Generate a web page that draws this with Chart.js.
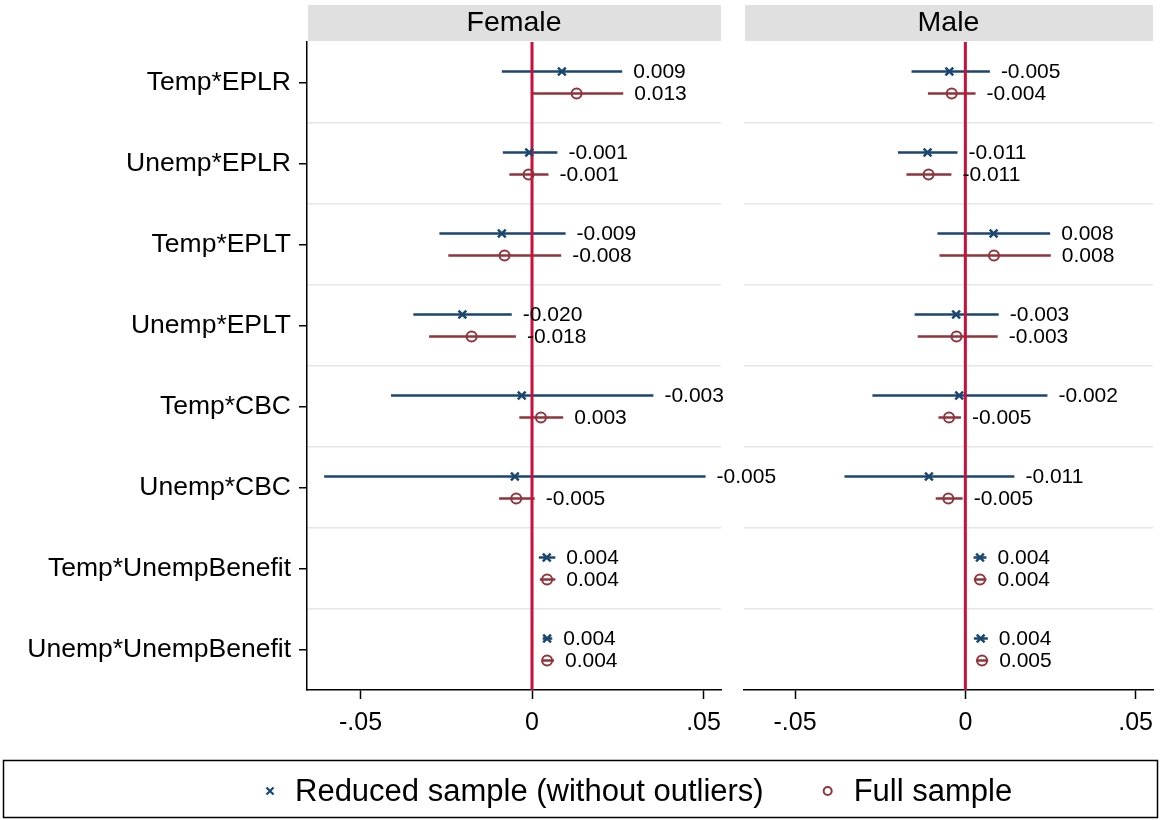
<!DOCTYPE html>
<html>
<head>
<meta charset="utf-8">
<script src="https://cdn.jsdelivr.net/npm/chart.js@4.4.1/dist/chart.umd.min.js"></script>
<style>
  html, body { margin: 0; padding: 0; background: #fff; }
  #wrap { position: relative; width: 1161px; height: 820px; }
  #wrap canvas { position: absolute; left: 0; top: 0; }
</style>
</head>
<body>
<div id="wrap">
  <canvas id="male" width="1161" height="820"></canvas>
  <canvas id="female" width="1161" height="820"></canvas>
</div>
<script>
const terms = ['Temp*EPLR', 'Unemp*EPLR', 'Temp*EPLT', 'Unemp*EPLT',
               'Temp*CBC', 'Unemp*CBC', 'Temp*UnempBenefit', 'Unemp*UnempBenefit'];
const panels = ['Female', 'Male'];
const seriesNames = ['Reduced sample (without outliers)', 'Full sample'];
const xTicks = [-0.05, 0, 0.05];
const xTickLabels = ['-.05', '0', '.05'];
const xMin = [-0.0656, -0.0650];
const xMax = [0.0551, 0.0551];

// Female, reduced sample: estimate and 95% CI
const femRedEst = [0.0087, -0.0008, -0.0088, -0.0203, -0.0030, -0.0050, 0.0043, 0.0044];
const femRedLo  = [-0.0088, -0.0085, -0.0270, -0.0346, -0.0411, -0.0606, 0.0020, 0.0031];
const femRedHi  = [0.0263, 0.0074, 0.0098, -0.0059, 0.0354, 0.0506, 0.0068, 0.0059];
// Female, full sample
const femFullEst = [0.0130, -0.0010, -0.0080, -0.0176, 0.0026, -0.0046, 0.0044, 0.0044];
const femFullLo  = [0.0000, -0.0066, -0.0244, -0.0300, -0.0037, -0.0096, 0.0023, 0.0030];
const femFullHi  = [0.0266, 0.0048, 0.0085, -0.0047, 0.0091, 0.0008, 0.0068, 0.0064];
// Male, reduced sample
const maleRedEst = [-0.0047, -0.0111, 0.0083, -0.0027, -0.0018, -0.0107, 0.0043, 0.0045];
const maleRedLo  = [-0.0158, -0.0198, -0.0082, -0.0149, -0.0273, -0.0355, 0.0024, 0.0025];
const maleRedHi  = [0.0072, -0.0023, 0.0249, 0.0098, 0.0241, 0.0144, 0.0062, 0.0066];
// Male, full sample
const maleFullEst = [-0.0040, -0.0108, 0.0084, -0.0026, -0.0048, -0.0050, 0.0043, 0.0049];
const maleFullLo  = [-0.0110, -0.0173, -0.0076, -0.0140, -0.0079, -0.0087, 0.0025, 0.0032];
const maleFullHi  = [0.0030, -0.0041, 0.0251, 0.0095, -0.0013, -0.0008, 0.0062, 0.0067];

const BLUE = '#1a476f';
const RED = '#90353b';
const ZERO = '#c8103c';
const FONT = "'Liberation Sans', Arial, sans-serif";
const OFF = 0.135; // vertical shift of the two series inside a row

Chart.defaults.font.family = FONT;
Chart.defaults.color = '#000';

function ciData(lo, hi, shift) {
  const pts = [];
  for (let i = 0; i < lo.length; i++) {
    pts.push({x: lo[i], y: i + shift});
    pts.push({x: hi[i], y: i + shift});
    pts.push({x: NaN, y: NaN}); // break the line between rows
  }
  return pts;
}

function estData(est, shift) {
  return est.map((v, i) => ({x: v, y: i + shift}));
}

function buildDatasets(red, full) {
  return [
    {label: seriesNames[0] + ' CI', data: ciData(red.lo, red.hi, -OFF), showLine: true,
     borderColor: BLUE, borderWidth: 2.5, pointRadius: 0, order: 3},
    {label: seriesNames[1] + ' CI', data: ciData(full.lo, full.hi, OFF), showLine: true,
     borderColor: RED, borderWidth: 2.5, pointRadius: 0, order: 3},
    {label: 'zero', data: [{x: 0, y: -0.5}, {x: 0, y: terms.length - 0.5}], showLine: true,
     borderColor: ZERO, borderWidth: 3, pointRadius: 0, order: 2},
    {label: seriesNames[0], data: estData(red.est, -OFF), hi: red.hi, isEst: true,
     pointStyle: 'crossRot', pointRadius: 5.5, borderWidth: 2.5, borderColor: BLUE,
     backgroundColor: BLUE, order: 1},
    {label: seriesNames[1], data: estData(full.est, OFF), hi: full.hi, isEst: true,
     pointStyle: 'circle', pointRadius: 5, borderWidth: 2, borderColor: RED,
     backgroundColor: 'rgba(0,0,0,0)', order: 1}
  ];
}

// gray strip with the panel name, and the value labels next to each CI
const panelPlugin = {
  id: 'panel',
  beforeDraw(chart, args, opts) {
    const {ctx, chartArea} = chart;
    ctx.save();
    ctx.fillStyle = '#e0e0e0';
    ctx.fillRect(chartArea.left + 1, 5, chartArea.right - chartArea.left - 1, 36);
    ctx.fillStyle = '#000';
    ctx.font = '28.5px ' + FONT;
    ctx.textAlign = 'center';
    ctx.textBaseline = 'middle';
    ctx.fillText(opts.title, (chartArea.left + chartArea.right) / 2, 23);
    ctx.restore();
  },
  afterDatasetsDraw(chart) {
    const {ctx} = chart;
    const xs = chart.scales.x;
    ctx.save();
    ctx.fillStyle = '#000';
    ctx.font = '21px ' + FONT;
    ctx.textAlign = 'left';
    ctx.textBaseline = 'middle';
    chart.data.datasets.forEach((ds, di) => {
      if (!ds.isEst) return;
      const meta = chart.getDatasetMeta(di);
      meta.data.forEach((pt, i) => {
        const x = xs.getPixelForValue(ds.hi[i]) + 11;
        ctx.fillText(ds.data[i].x.toFixed(3), x, pt.y + 1);
      });
    });
    ctx.restore();
  }
};

// boxed legend along the bottom
const legendPlugin = {
  id: 'boxLegend',
  afterDraw(chart) {
    const {ctx} = chart;
    ctx.save();
    ctx.strokeStyle = '#000';
    ctx.lineWidth = 1.5;
    ctx.strokeRect(3.5, 760.5, 1154, 57);
    ctx.font = '31px ' + FONT;
    ctx.textBaseline = 'middle';
    ctx.fillStyle = '#000';
    const y = 791;
    let x = 270;
    // cross marker
    ctx.strokeStyle = BLUE;
    ctx.lineWidth = 2.2;
    ctx.beginPath();
    ctx.moveTo(x - 3.5, y - 3.5); ctx.lineTo(x + 3.5, y + 3.5);
    ctx.moveTo(x - 3.5, y + 3.5); ctx.lineTo(x + 3.5, y - 3.5);
    ctx.stroke();
    ctx.fillText(seriesNames[0], x + 25, y + 1);
    x = x + 25 + ctx.measureText(seriesNames[0]).width + 64;
    // circle marker
    ctx.strokeStyle = RED;
    ctx.lineWidth = 2;
    ctx.beginPath();
    ctx.arc(x, y, 4, 0, Math.PI * 2);
    ctx.stroke();
    ctx.fillText(seriesNames[1], x + 26, y + 1);
    ctx.restore();
  }
};

function makeOptions(p, showY) {
  return {
    responsive: false,
    animation: false,
    events: [],
    layout: {padding: showY ? {left: 0, right: 440, top: 42, bottom: 0}
                            : {left: 744, right: 3, top: 42, bottom: 0}},
    plugins: {
      legend: {display: false},
      tooltip: {enabled: false},
      panel: {title: panels[p]}
    },
    scales: {
      x: {
        type: 'linear',
        min: xMin[p],
        max: xMax[p],
        afterBuildTicks: s => { s.ticks = xTicks.map(v => ({value: v})); },
        afterFit: s => {
          s.height = 130;
          s.paddingLeft = 0;   // labels may overhang; the panel edges stay fixed
          s.paddingRight = 0;
        },
        ticks: {
          font: {size: 25},
          color: '#000',
          padding: 9,
          callback: v => xTickLabels[xTicks.indexOf(v)]
        },
        grid: {drawOnChartArea: false, drawTicks: true, tickLength: 9,
               tickColor: '#000', tickWidth: 1.5},
        border: {display: true, color: '#000', width: 1.5}
      },
      y: {
        type: 'linear',
        reverse: true,
        min: -0.5,
        max: terms.length - 0.5,
        afterBuildTicks: s => {
          const t = [];
          for (let v = -0.5; v <= terms.length - 0.5; v += 0.5) t.push({value: v});
          s.ticks = t;
        },
        afterFit: s => {
          s.width = showY ? 307 : 0;
          s.paddingTop = 0;
          s.paddingBottom = 0;
        },
        ticks: {
          display: showY,
          autoSkip: false,
          font: {size: 26.5},
          color: '#000',
          padding: 8,
          callback: v => Number.isInteger(v) ? terms[v] : ''
        },
        grid: {
          drawTicks: showY,
          tickLength: 8,
          color: c => (c.tick && !Number.isInteger(c.tick.value) &&
                       c.tick.value > -0.5 && c.tick.value < terms.length - 0.5)
                      ? '#e6e6e6' : 'rgba(0,0,0,0)',
          lineWidth: 1.5,
          tickColor: c => (c.tick && Number.isInteger(c.tick.value)) ? '#000' : 'rgba(0,0,0,0)',
          tickWidth: 1.5
        },
        border: {display: showY, color: '#000', width: 1.5}
      }
    }
  };
}

new Chart(document.getElementById('male'), {
  type: 'scatter',
  data: {datasets: buildDatasets(
    {est: maleRedEst, lo: maleRedLo, hi: maleRedHi},
    {est: maleFullEst, lo: maleFullLo, hi: maleFullHi})},
  options: makeOptions(1, false),
  plugins: [panelPlugin]
});

new Chart(document.getElementById('female'), {
  type: 'scatter',
  data: {datasets: buildDatasets(
    {est: femRedEst, lo: femRedLo, hi: femRedHi},
    {est: femFullEst, lo: femFullLo, hi: femFullHi})},
  options: makeOptions(0, true),
  plugins: [panelPlugin, legendPlugin]
});
</script>
</body>
</html>
